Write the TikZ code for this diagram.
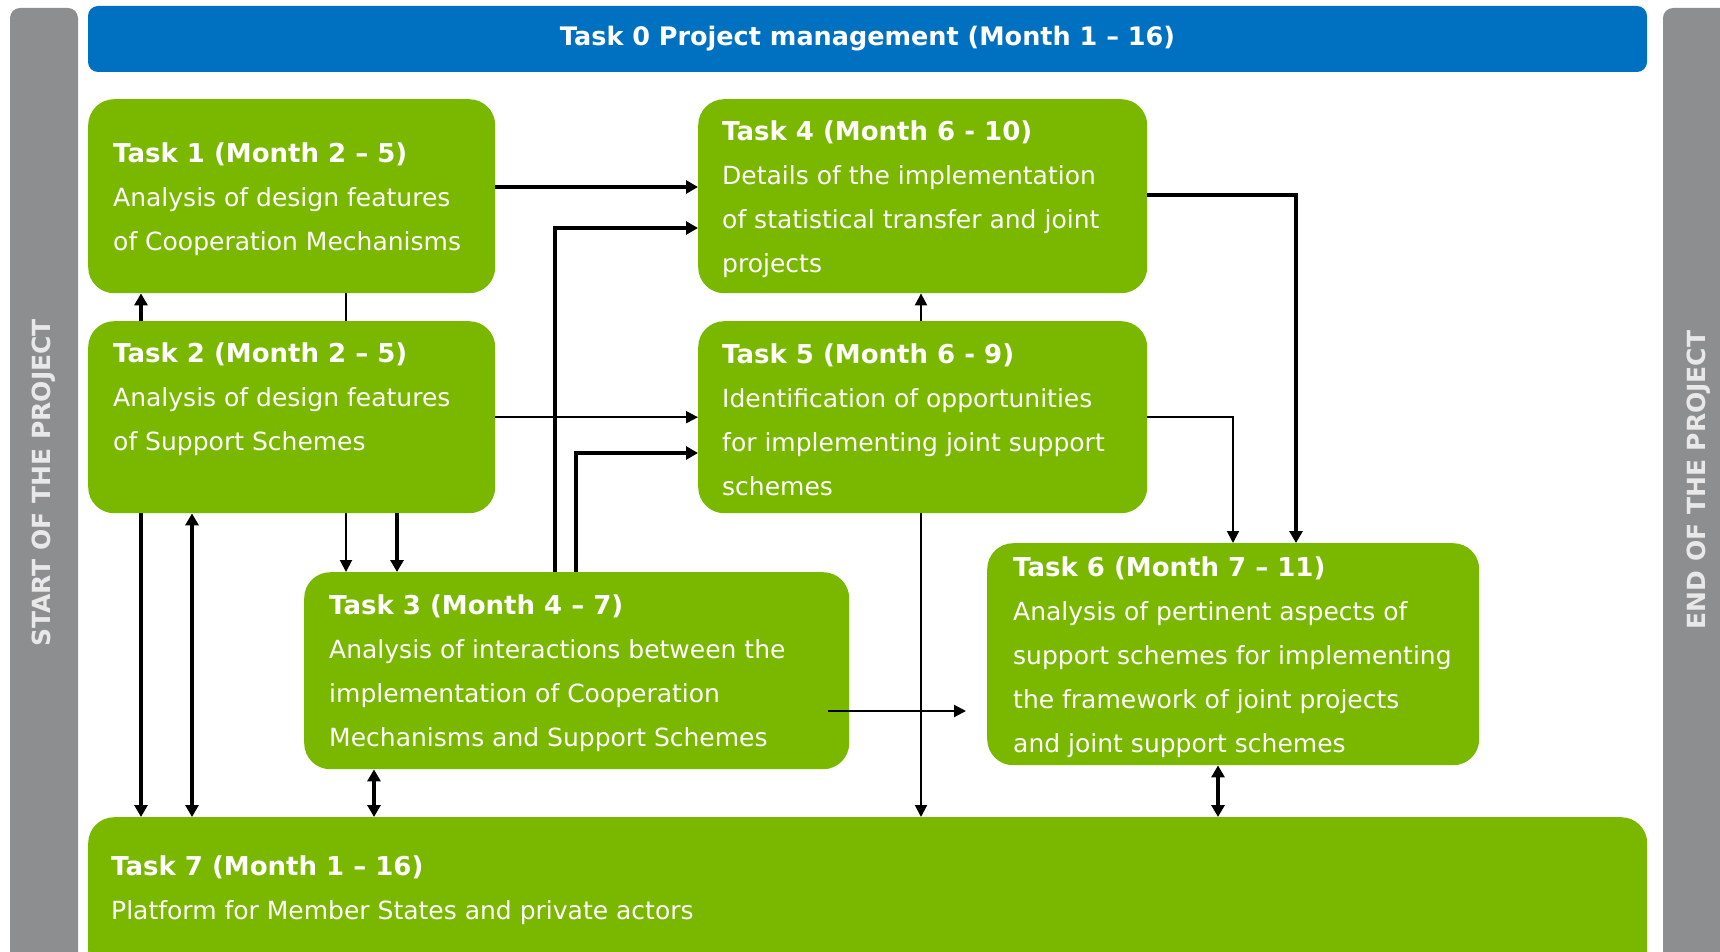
\documentclass[tikz,border=0pt]{standalone}
\usepackage{fontspec}
\setmainfont{DejaVu Sans}
\usetikzlibrary{arrows.meta,backgrounds}

\definecolor{taskgreen}{HTML}{7AB800}
\definecolor{taskblue}{HTML}{0070C0}
\definecolor{bargray}{HTML}{8D8E90}
\definecolor{bartext}{HTML}{E8E8E8}

\newcommand{\tasktitle}[1]{{\fontsize{26}{44}\selectfont\bfseries #1}}

\tikzset{
  task/.style={fill=taskgreen, rounded corners=26, inner sep=0, anchor=north west},
  txt/.style={text=white, align=left, inner sep=0, anchor=west, yshift=-3,
    font=\fontsize{25}{44}\selectfont},
  bar/.style={fill=bargray, rounded corners=10},
  bartxt/.style={text=bartext, rotate=90, font=\fontsize{25}{30}\selectfont\bfseries},
  link/.style={line width=3.6pt, >={Triangle[length=12pt,width=13pt]}},
  thin link/.style={line width=2pt, >={Triangle[length=12pt,width=12pt]}},
}

\begin{document}
\begin{tikzpicture}[x=1pt, y=-1pt]
  \useasboundingbox (0,0) rectangle (1720,952);
  \clip (0,0) rectangle (1720,952);

  % start and end bars
  \fill[bar] (10,8) rectangle (78,980);
  \fill[bar] (1663,8) rectangle (1740,980);
  \node[bartxt] (start) at (44,483) {START OF THE PROJECT};
  \node[bartxt] (end) at (1699,480) {END OF THE PROJECT};

  % project management
  \node[fill=taskblue, rounded corners=10, minimum width=1559, minimum height=66,
    text=white, font=\fontsize{25.5}{30}\selectfont\bfseries] (t0) at (867.5,39)
    {Task 0 Project management (Month 1 – 16)};

  % tasks
  \node[task, minimum width=407, minimum height=194] (t1) at (88,99) {};
  \node[task, minimum width=407, minimum height=192] (t2) at (88,321) {};
  \node[task, minimum width=449, minimum height=194] (t4) at (698,99) {};
  \node[task, minimum width=449, minimum height=192] (t5) at (698,321) {};
  \node[task, minimum width=545, minimum height=197] (t3) at (304,572) {};
  \node[task, minimum width=492, minimum height=222] (t6) at (987,543) {};
  \node[task, minimum width=1559, minimum height=160] (t7) at (88,817) {};

  \node[txt] (t1text) at ([xshift=25]t1.west)
    {\tasktitle{Task 1 (Month 2 – 5)}\\Analysis of design features\\of Cooperation Mechanisms};
  \node[txt, anchor=north west] (t2text) at ([xshift=25,yshift=-19]t2.north west)
    {\tasktitle{Task 2 (Month 2 – 5)}\\Analysis of design features\\of Support Schemes};
  \node[txt] (t4text) at ([xshift=24]t4.west)
    {\tasktitle{Task 4 (Month 6 - 10)}\\Details of the implementation\\of statistical transfer and joint\\projects};
  \node[txt] (t5text) at ([xshift=24]t5.west)
    {\tasktitle{Task 5 (Month 6 - 9)}\\Identification of opportunities\\for implementing joint support\\schemes};
  \node[txt] (t3text) at ([xshift=25]t3.west)
    {\tasktitle{Task 3 (Month 4 – 7)}\\Analysis of interactions between the\\implementation of Cooperation\\Mechanisms and Support Schemes};
  \node[txt] (t6text) at ([xshift=26]t6.west)
    {\tasktitle{Task 6 (Month 7 – 11)}\\Analysis of pertinent aspects of\\support schemes for implementing\\the framework of joint projects\\and joint support schemes};
  \node[txt, anchor=north west] (t7text) at ([xshift=23,yshift=-36]t7.north west)
    {\tasktitle{Task 7 (Month 1 – 16)}\\Platform for Member States and private actors};

  % links running behind the boxes
  \begin{scope}[on background layer]
    \draw[link,<->] (t1.south -| 141,0) -- (t7.north -| 141,0);
    \draw[thin link,->] (t1.south -| 346,0) -- (t3.north -| 346,0);
    \draw[thin link,<->] (t4.south -| 921,0) -- (t7.north -| 921,0);
  \end{scope}

  % links
  \draw[link,->] (t1.east |- 0,187) -- (t4.west |- 0,187);
  \draw[link,<->] (t2.south -| 192,0) -- (t7.north -| 192,0);
  \draw[link,->] (t2.south -| 397,0) -- (t3.north -| 397,0);
  \draw[thin link,->] (t2.east) -- (t5.west);
  \draw[link,->] (t3.north -| 555,0) |- (t4.west |- 0,228);
  \draw[link,->] (t3.north -| 576,0) |- (t5.west |- 0,453);
  \draw[link,->] (t4.east |- 0,195) -| (t6.north -| 1296,0);
  \draw[thin link,->] (t5.east |- 0,417) -| (t6.north -| 1233,0);
  \coordinate (t3out) at (828,711);
  \coordinate (t6in) at (966,711);
  \draw[thin link,->] (t3out) -- (t6in);
  \draw[link,<->] (t3.south -| 374,0) -- (t7.north -| 374,0);
  \draw[link,<->] (t6.south -| 1218,0) -- (t7.north -| 1218,0);
\end{tikzpicture}
\end{document}
